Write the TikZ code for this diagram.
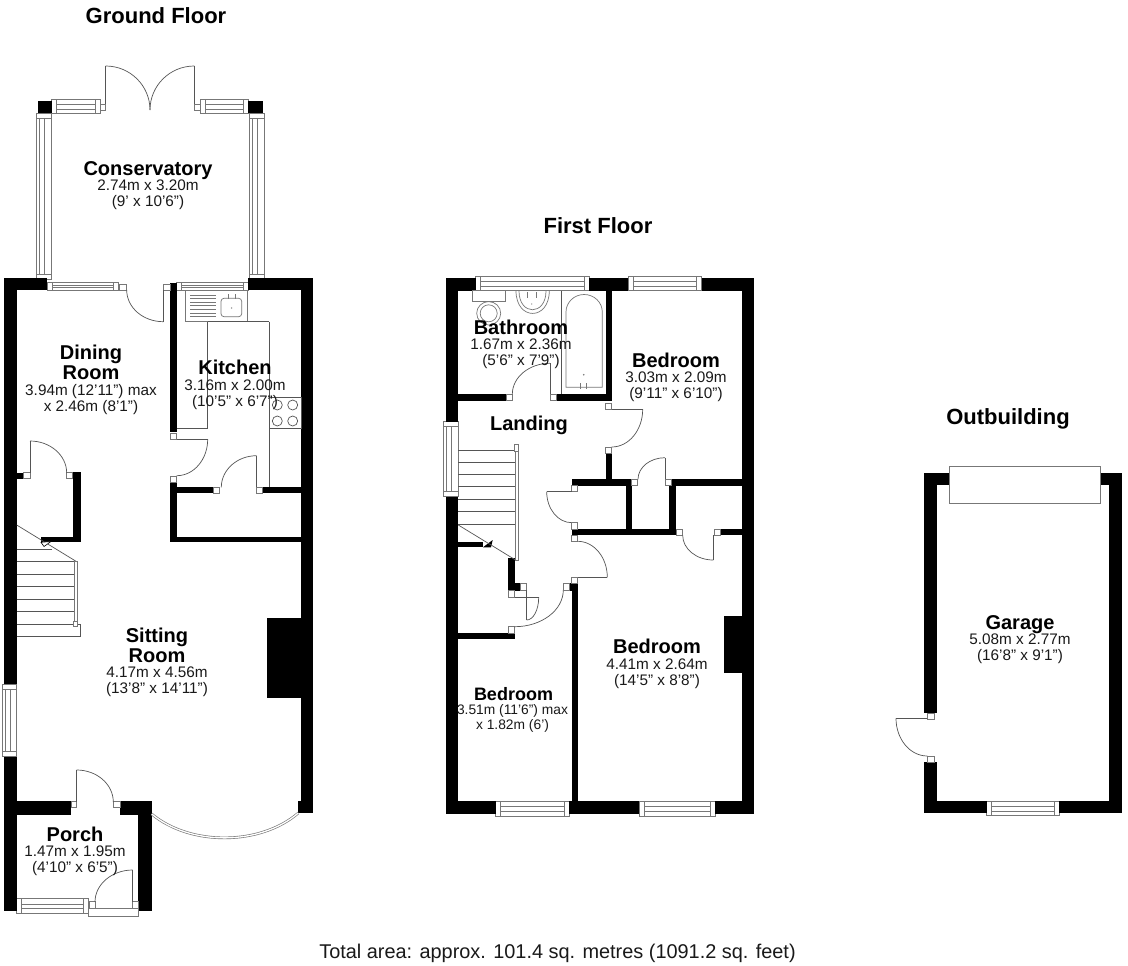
\documentclass[tikz,border=0pt]{standalone}
\usepackage{fontspec}
\setmainfont{Liberation Sans}
\usetikzlibrary{calc}
\definecolor{wallk}{HTML}{000000}
\definecolor{thin}{HTML}{555555}
\definecolor{wing}{HTML}{777777}
\tikzset{
  wallfill/.style={fill=wallk,draw=none},
  thinline/.style={draw=thin,line width=0.7pt},
  winline/.style={draw=wing,line width=0.7pt,fill=white},
  fixline/.style={draw=wing,line width=0.7pt},
  title/.style={font=\fontsize{22}{24}\selectfont\bfseries,text=black,inner sep=0pt},
  rname/.style={align=center,inner sep=0pt,text=black,font=\fontsize{20}{20}\selectfont\bfseries},
  rdim/.style={align=center,inner sep=0pt,text=black!90,font=\fontsize{15.3}{15.7}\selectfont},
  rnamesm/.style={rname,font=\fontsize{18}{18}\selectfont\bfseries},
  rdimsm/.style={rdim,font=\fontsize{13.8}{14.7}\selectfont},
}
\newcommand{\wallr}[4]{\fill[wallfill] (#1,#2) rectangle (#3,#4);}
\newcommand{\jamb}[4]{\draw[winline] (#1,#2) rectangle (#3,#4);}
\newcommand{\seg}[4]{\draw[thinline] (#1,#2) -- (#3,#4);}
\newcommand{\darc}[6]{\draw[thinline] (#1,#2) .. controls ($(#1,#2)!.5523!(#5,#6)$) and ($(#3,#4)!.5523!(#5,#6)$) .. (#3,#4);}
% horizontal window: x1 y1 x2 y2
\newcommand{\hwin}[4]{%
  \draw[winline] (#1,#2) rectangle (#3,#4);
  \draw[fixline] ({#1+5},{#2+0.38*(#4-#2)}) rectangle ({#3-5},{#2+0.7*(#4-#2)});
  \draw[fixline] ({#1+5},#2) -- ({#1+5},#4) ({#3-5},#2) -- ({#3-5},#4);}
\newcommand{\vwin}[4]{%
  \draw[winline] (#1,#2) rectangle (#3,#4);
  \draw[fixline] ({#1+0.22*(#3-#1)},{#2+5}) rectangle ({#1+0.55*(#3-#1)},{#4-5});
  \draw[fixline] (#1,{#2+5}) -- (#3,{#2+5}) (#1,{#4-5}) -- (#3,{#4-5});}
\begin{document}
\begin{tikzpicture}[x=1pt,y=-1pt]
\useasboundingbox (0,0) rectangle (1128,966);
\fill[white] (0,0) rectangle (1128,966);

% ---------- Ground floor: conservatory
\hwin{51.7}{99.3}{100}{113.3}
\hwin{200}{99.3}{248.3}{113.3}
\vwin{36}{113.3}{51.7}{279.3}
\vwin{249.3}{113.3}{264.3}{279.3}
\wallr{38.3}{101}{51.7}{113.3}
\wallr{248.3}{101}{262.7}{113.3}
\jamb{100}{104.3}{105.7}{110.7}
\jamb{194.3}{104.3}{200}{110.7}
\seg{105.7}{104.3}{105.7}{66}
\seg{194.3}{104.3}{194.3}{66}
\darc{105.7}{66}{150}{110}{150}{66}
\darc{194.3}{66}{150}{110}{150}{66}

% ---------- Ground floor: windows in main shell
\hwin{47}{282}{118.3}{290}
\hwin{176.7}{282}{248.3}{290}
\vwin{2.7}{684}{16.7}{756.7}
\hwin{16.7}{898.3}{88.3}{913.3}

% walls
\wallr{4.3}{277.7}{47}{290}
\wallr{248.3}{277.7}{313}{290}
\wallr{4.3}{277.7}{16.7}{684}
\wallr{4.3}{756.7}{16.7}{911}
\wallr{301}{277.7}{313}{813}
\wallr{298.3}{801}{301}{813}
\wallr{170}{283}{176.7}{431.7}
\wallr{170}{482.7}{176.7}{542.3}
\wallr{170}{536.7}{301}{542.3}
\wallr{176.7}{487.3}{213.3}{493.3}
\wallr{262.7}{487.3}{301}{493.3}
\wallr{16.7}{472.7}{23.3}{478.7}
\wallr{72.7}{472.3}{81}{542.3}
\wallr{41}{536.7}{81}{542.3}
\wallr{266.7}{618.3}{301}{697.7}
\wallr{16.7}{801}{71}{815}
\wallr{120}{801}{151.7}{815}
\wallr{138.3}{801}{151.7}{911}

% doors ground floor
\jamb{119.3}{284.3}{126.7}{290}
\jamb{163.3}{284.3}{170}{290}
\seg{163.3}{290}{163.3}{321.7}
\darc{163.3}{321.7}{126.7}{290}{126.7}{321.7}
\jamb{170}{433.3}{176.7}{439.3}
\seg{176.7}{439.3}{207.7}{439.3}
\darc{207.7}{439.3}{176.7}{475.7}{207.7}{475.7}
\jamb{170}{476.7}{176.7}{482.7}
\jamb{213.3}{487.3}{219.3}{493.3}
\jamb{256.7}{487.3}{262.7}{493.3}
\seg{256.7}{487.3}{256.7}{455.7}
\darc{256.7}{455.7}{221.3}{487.3}{221.3}{455.7}
\jamb{23.3}{472.7}{30}{478.7}
\jamb{66.7}{472.7}{72.7}{478.7}
\seg{30}{472.7}{30}{441}
\darc{30}{441}{66.7}{473}{66.7}{441}
\jamb{71}{801.7}{76.7}{807.3}
\jamb{113.3}{801.7}{120}{807.3}
\seg{76.7}{801.7}{76.7}{770}
\darc{76.7}{770}{113.3}{802}{113.3}{770}
\jamb{89}{901.7}{95}{908.3}
\jamb{132.7}{901.7}{138.3}{908.3}
\draw[winline] (88.3,908.3) rectangle (138.3,916.7);
\seg{132.7}{901.7}{132.7}{870}
\darc{132.7}{870}{95}{902}{95}{870}

% bay window
\draw[draw=wing,line width=2.6pt] (151.7,814) .. controls (190,846) and (260,846) .. (298.3,813);
\draw[draw=white,line width=1.3pt] (151.7,814) .. controls (190,846) and (260,846) .. (298.3,813);

% kitchen fittings
\draw[fixline] (185,290) rectangle (247.7,321.7);
\foreach \yy in {295,298.6,302.2,305.8,309.4,313,316.6}{\draw[fixline] (190,\yy) -- (216,\yy);}
\draw[fixline,rounded corners=3pt] (221,298.3) rectangle (241.7,316.7);
\draw[fixline] (228.3,294) -- (228.3,299) (235,294) -- (235,299);
\fill[wing] (231.6,308) circle (0.7);
\seg{207.7}{321.7}{269.3}{321.7}
\seg{207.7}{321.7}{207.7}{428.3}
\seg{176.7}{428.3}{207.7}{428.3}
\seg{269.3}{321.7}{269.3}{487.3}
\draw[thinline] (269.3,397.3) rectangle (301,428.3);
\foreach \xx/\yy in {277.3/405,292.7/405,277.3/421,292.7/421}{\draw[thinline] (\xx,\yy) circle (5);}

% ground stairs
\draw[thinline] (16.7,525) -- (76.7,561.7);
\seg{16.7}{549}{52.3}{549}
\foreach \yy in {561.7,574.3,586.7,599,611.7}{\seg{16.7}{\yy}{75}{\yy}}
\seg{16.7}{624}{75}{624}
\draw[thinline] (16.7,636) -- (80,636) -- (80,624) -- (75,624);
\draw[fixline] (74,561.7) rectangle (77.3,622);
\draw[winline] (73.3,621.7) rectangle (77.3,626);
\draw[draw=black,line width=0.6pt,fill=white] (41,542.3) -- (51,541.5) -- (44,546.5) -- cycle;

% ---------- First floor
\hwin{475.7}{276}{589}{290.7}
\hwin{628.3}{276}{701.7}{290.7}
\vwin{443.3}{421.7}{458.3}{496.7}
\hwin{495.7}{801}{569}{816}
\hwin{639.3}{801}{715}{816}

\wallr{446}{278.3}{475.7}{290.7}
\wallr{589}{278.3}{628.3}{290.7}
\wallr{701.7}{278.3}{754.3}{290.7}
\wallr{446}{278.3}{458.3}{421.7}
\wallr{446}{496.7}{458.3}{814}
\wallr{741.7}{278.3}{754.3}{814}
\wallr{446}{801}{495.7}{814}
\wallr{569}{801}{639.3}{814}
\wallr{715}{801}{754.3}{814}
\wallr{605.7}{290}{611.7}{400.7}
\wallr{458.3}{394.3}{506}{400.7}
\wallr{556.7}{394.3}{605.7}{400.7}
\wallr{605.7}{453.3}{611.7}{479.3}
\wallr{571.7}{479.3}{631.7}{485.7}
\wallr{671}{479.3}{741.7}{485.7}
\wallr{571.7}{529}{675.7}{535.3}
\wallr{625.7}{485.7}{631.7}{529}
\wallr{669.3}{485.7}{675.7}{529}
\wallr{720}{529}{741.7}{535.3}
\wallr{571.7}{583.3}{577.7}{814}
\wallr{570}{583.3}{577.7}{590.7}
\wallr{458.3}{541.7}{483}{547.3}
\fill[wallk] (483,547.3) -- (492.7,540) -- (491,547.3) -- cycle;
\wallr{508.3}{558}{514.7}{590.7}
\wallr{508.3}{583.3}{520}{590.7}
\wallr{458.3}{633.3}{514.7}{639.3}
\wallr{724.3}{616}{741.7}{672.7}

% first floor doors
\jamb{506}{394.3}{512.3}{400.7}
\jamb{550}{394.3}{556.7}{400.7}
\seg{550}{394.3}{550}{363.3}
\darc{550}{363.3}{512.3}{394.3}{512.3}{363.3}
\jamb{605.7}{403.3}{611.7}{409.3}
\seg{611.7}{409.3}{642.7}{409.3}
\darc{642.7}{409.3}{611.7}{447}{642.7}{447}
\jamb{605.7}{447.3}{611.7}{453.3}
\jamb{631.7}{479.3}{637.7}{485.7}
\jamb{665}{479.3}{671}{485.7}
\seg{665}{479.3}{665}{457.7}
\darc{665}{457.7}{638}{479.3}{638}{457.7}
\jamb{571.7}{485.7}{577.7}{491.7}
\seg{571.7}{491.7}{546.7}{491.7}
\darc{546.7}{491.7}{571.7}{522.7}{546.7}{522.7}
\jamb{571.7}{522.7}{577.7}{529}
\jamb{676.7}{529.3}{682.7}{535.3}
\jamb{714}{529.3}{720}{535.3}
\seg{713.3}{535.3}{713.3}{560}
\darc{713.3}{560}{682.7}{535.3}{682.7}{560}
\jamb{571.7}{535.3}{577.7}{541.3}
\darc{577.7}{541.3}{607.3}{577.3}{607.3}{541.3}
\seg{607.3}{577.3}{577.7}{577.3}
\jamb{571.7}{577.3}{577.7}{583.3}
\jamb{520}{583.3}{526.7}{590}
\jamb{508.3}{590.7}{514.7}{597.3}
\seg{514.7}{597.3}{538.7}{597.3}
\seg{526.7}{590}{526.7}{620}
\darc{538.7}{597.3}{526.7}{620}{538.7}{620}
\jamb{508.3}{626.7}{514.7}{633.3}
\darc{514.7}{626.7}{563.3}{590}{563.3}{626.7}
\jamb{563.3}{583.3}{569.3}{590}

% bathroom fittings
\draw[thinline] (561.7,290.7) -- (561.7,394.3);
\draw[fixline] (566,387.3) -- (566,312) arc[start angle=180,end angle=360,x radius=18.15,y radius=17.5] -- (602.3,387.3) -- cycle;
\draw[fixline] (580,383) -- (580,389) (586.7,383) -- (586.7,389);
\fill[wing] (583.7,374.7) circle (0.9);
\draw[fixline] (516,290.7) .. controls (516,321) and (549.3,321) .. (549.3,290.7);
\draw[fixline] (519,291) .. controls (519,316) and (546,316) .. (546,291);
\draw[fixline] (527.3,292) -- (527.3,298) (536,292) -- (536,298);
\fill[wing] (531.7,304) circle (0.7);
\draw[fixline] (472.3,290.7) rectangle (505,301.7);
\draw[fixline] (488.7,313.3) ellipse (12 and 11.7);
\draw[fixline] (488.7,313.3) ellipse (8.5 and 8.5);

% first stairs
\draw[thinline] (458.3,525) -- (516.7,560.7);
\foreach \yy in {450,462.3,474.3,486.7,499.3,511.7,524}{\seg{458.3}{\yy}{515}{\yy}}
\draw[fixline] (515,451) rectangle (518.3,560.7);
\draw[winline] (514.7,444.7) rectangle (518.8,451.7);

% ---------- Garage
\hwin{986.7}{801}{1059}{815.7}
\wallr{924.3}{472.7}{949.3}{485.3}
\wallr{1100.7}{472.7}{1122.3}{485.3}
\wallr{924.3}{472.7}{937.3}{713.3}
\wallr{924.3}{762.3}{937.3}{813.3}
\wallr{1109.3}{472.7}{1122.3}{813.3}
\wallr{924.3}{801}{986.7}{813.3}
\wallr{1059}{801}{1122.3}{813.3}
\draw[winline] (949.3,466) rectangle (1100.7,503.3);
\jamb{927.3}{713.3}{934}{719.3}
\jamb{927.3}{756}{934}{762.3}
\seg{927.3}{718.3}{896}{718.3}
\darc{896}{718.3}{927.3}{756}{896}{756}

% ---------- Text
\node[title] (tground) at (156,16) {Ground Floor};
\node[title] (tfirst) at (598,226) {First Floor};
\node[title] (tout) at (1008,418.5) {Outbuilding};
\node[rname] (rcons) at (148,171) {Conservatory};
\node[rdim] (dcons) at (148,195) {2.74m x 3.20m\\ (9' x 10'6")};
\node[rname] (rdin) at (91,362) {Dining\\ Room};
\node[rdim] (ddin) at (91,399.5) {3.94m (12'11") max\\ x 2.46m (8'1")};
\node[rname] (rkit) at (235,367) {Kitchen};
\node[rdim] (dkit) at (235,394.5) {3.16m x 2.00m\\ (10'5" x 6'7")};
\node[rname] (rsit) at (157,645.5) {Sitting\\ Room};
\node[rdim] (dsit) at (157,681.5) {4.17m x 4.56m\\ (13'8" x 14'11")};
\node[rname] (rpor) at (75,834) {Porch};
\node[rdim] (dpor) at (75,860.5) {1.47m x 1.95m\\ (4'10" x 6'5")};
\node[rname] (rbat) at (521,327) {Bathroom};
\node[rdim] (dbat) at (521,353.5) {1.67m x 2.36m\\ (5'6" x 7'9")};
\node[rname] (rbed) at (676,360) {Bedroom};
\node[rdim] (dbed) at (676,387) {3.03m x 2.09m\\ (9'11" x 6'10")};
\node[rname] (rlan) at (529,425) {Landing};
\node[rname] (rbedb) at (657,646) {Bedroom};
\node[rdim] (dbedb) at (657,674) {4.41m x 2.64m\\ (14'5" x 8'8")};
\node[rnamesm] (rbedc) at (513.5,694) {Bedroom};
\node[rdimsm] (dbedc) at (512.5,718.5) {3.51m (11'6") max\\ x 1.82m (6')};
\node[rname] (rgar) at (1020,625) {Garage};
\node[rdim] (dgar) at (1020,649) {5.08m x 2.77m\\ (16'8" x 9'1")};
\node[rdim,font=\fontsize{19.9}{20}\selectfont] (rtot) at (557.5,953) {Total area: approx. 101.4 sq. metres (1091.2 sq. feet)};
\end{tikzpicture}
\end{document}
